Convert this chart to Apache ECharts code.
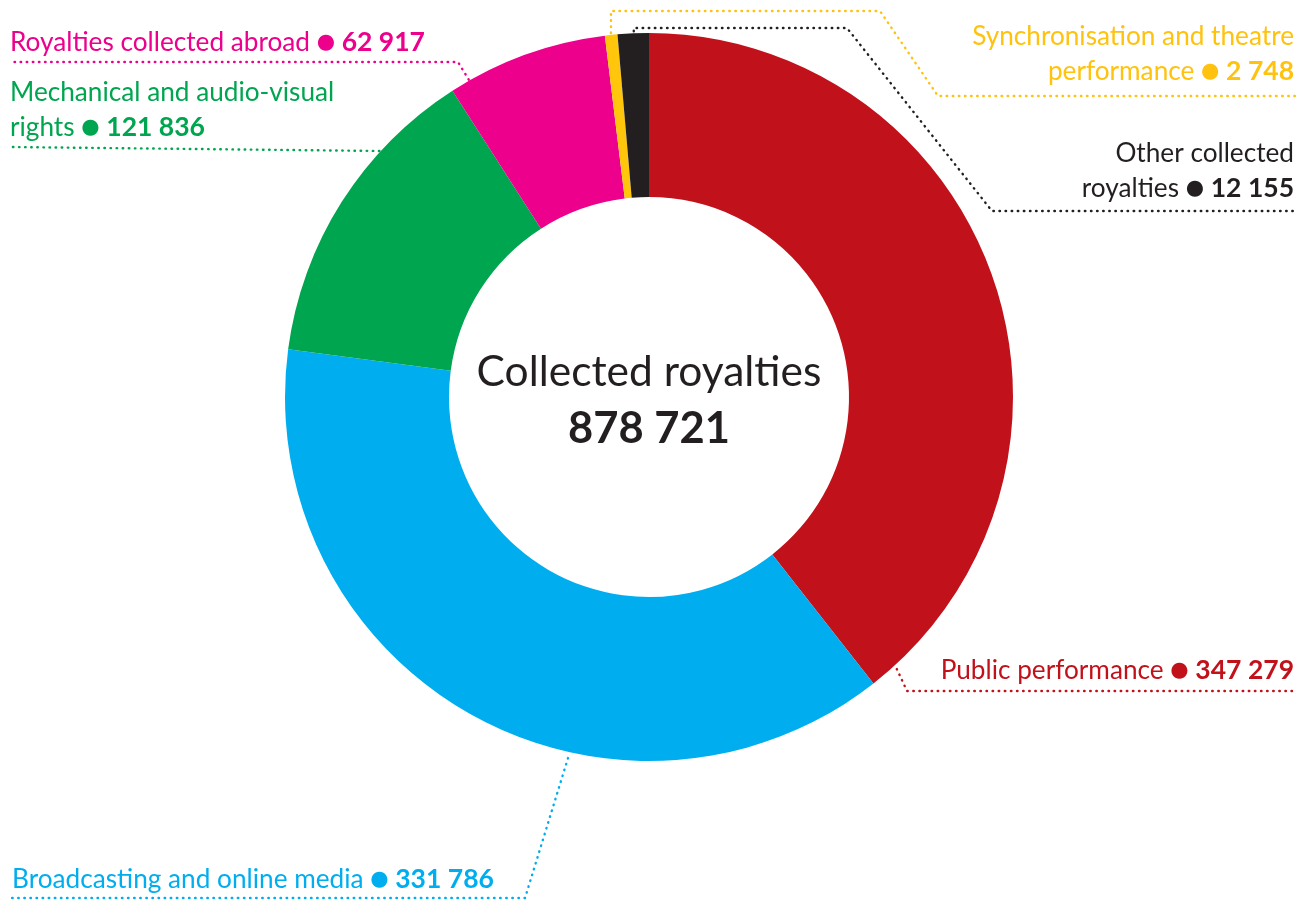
<!DOCTYPE html>
<html>
<head>
<meta charset="utf-8">
<script src="https://cdn.jsdelivr.net/npm/echarts@6/dist/echarts.min.js"></script>
<style>
html,body{margin:0;padding:0;background:#fff;}
#chart{width:1301px;height:901px;}
</style>
</head>
<body>
<div id="chart"></div>
<script>
// ---- data ----
var categories = [
  'Public performance',
  'Broadcasting and online media',
  'Mechanical and audio-visual\nrights',
  'Royalties collected abroad',
  'Synchronisation and theatre\nperformance',
  'Other collected\nroyalties'
];
var values = [347279, 331786, 121836, 62917, 2748, 12155];
var centerTitle = 'Collected royalties';

// ---- styles / layout ----
var sliceColors = ['#C1121C', '#00AEEF', '#00A54F', '#EC008C', '#FFC60B', '#231F20'];
var textColors  = ['#C1121C', '#00AEEF', '#00A54F', '#EC008C', '#FFC20E', '#231F20'];
var FONT = 'Lato, "Noto Sans", sans-serif';
var CX = 649, CY = 397, R0 = 200, R1 = 364;

// label anchor (x, last-line baseline), alignment, leader start (fraction of slice, radius) and corners
var spots = [
  {x: 1294, base: 680, align: 'right', frac: 0.97, r: 368, path: [[907, 691], [1297, 691]]},
  {x: 12,   base: 889, align: 'left',  frac: 0.374, r: 370, path: [[525, 898], [10, 898]]},
  {x: 10,   base: 137, align: 'left',  frac: 0.70, r: 365, path: [[10, 147]]},
  {x: 10,   base: 52,  align: 'left',  frac: 0.12, r: 365, path: [[458, 62], [10, 62]]},
  {x: 1294, base: 81,  align: 'right', frac: 0.5, r: 366, path: [[null, 11], [880, 11], [938, 96], [1297, 96]]},
  {x: 1294, base: 198, align: 'right', frac: 0.52, r: 366, path: [[null, 28], [847, 28], [992, 211], [1297, 211]]}
];

function fmt(n) {
  return String(n).replace(/\B(?=(\d{3})+(?!\d))/g, ' ');
}
var total = values.reduce(function (a, b) { return a + b; }, 0);

var chart = echarts.init(document.getElementById('chart'), null, {renderer: 'canvas'});

function slicePoint(i, frac, r) {
  var lay = null;
  try {
    lay = chart.getModel().getSeriesByIndex(0).getData().getItemLayout(i);
  } catch (e) { lay = null; }
  if (lay && lay.startAngle != null) {
    var t = lay.startAngle + frac * (lay.endAngle - lay.startAngle);
    return [lay.cx + r * Math.cos(t), lay.cy + r * Math.sin(t)];
  }
  var acc = 0;
  for (var k = 0; k < i; k++) acc += values[k];
  var a = (acc + frac * values[i]) / total * 2 * Math.PI;
  return [CX + r * Math.sin(a), CY - r * Math.cos(a)];
}

var data = categories.map(function (name, i) {
  return {
    name: name,
    value: values[i],
    itemStyle: {color: sliceColors[i]},
    label: {color: textColors[i], align: spots[i].align},
    labelLine: {lineStyle: {color: textColors[i]}}
  };
});

var option = {
  backgroundColor: '#ffffff',
  animation: false,
  graphic: [
    {type: 'text', x: CX, y: 372, style: {text: centerTitle, fill: '#231F20', font: 'normal 42.5px ' + FONT, textAlign: 'center', textVerticalAlign: 'middle'}},
    {type: 'text', x: CX, y: 429, style: {text: fmt(total), fill: '#231F20', font: 'bold 43.5px ' + FONT, textAlign: 'center', textVerticalAlign: 'middle'}}
  ],
  series: [{
    type: 'pie',
    center: [CX, CY],
    radius: [R0, R1],
    startAngle: 90,
    clockwise: true,
    minAngle: 2,
    avoidLabelOverlap: false,
    silent: true,
    emphasis: {disabled: true},
    itemStyle: {borderWidth: 0},
    label: {
      show: true,
      position: 'outside',
      fontFamily: FONT,
      fontSize: 26.2,
      lineHeight: 35,
      formatter: function (p) {
        return '{n|' + p.name + '} {d|●} {v|' + fmt(p.value) + '}';
      },
      rich: {
        n: {fontFamily: FONT, fontSize: 26.2, lineHeight: 35, fontWeight: 'normal'},
        d: {fontFamily: 'DejaVu Sans', fontSize: 21, lineHeight: 35},
        v: {fontFamily: FONT, fontSize: 26.5, lineHeight: 35, fontWeight: 'bold'}
      }
    },
    labelLine: {
      show: true,
      length: 10,
      length2: 10,
      smooth: false,
      lineStyle: {width: 2.4, type: [0.5, 5.6], cap: 'round'}
    },
    labelLayout: function (p) {
      var i = p.dataIndex;
      var s = spots[i];
      var start = slicePoint(i, s.frac, s.r);
      var pts = [start];
      s.path.forEach(function (pt) {
        pts.push([pt[0] == null ? start[0] : pt[0], pt[1]]);
      });
      return {
        x: s.x,
        y: s.base + 8,
        align: s.align,
        verticalAlign: 'bottom',
        labelLinePoints: pts
      };
    },
    data: data
  }]
};
chart.setOption(option);
</script>
</body>
</html>
